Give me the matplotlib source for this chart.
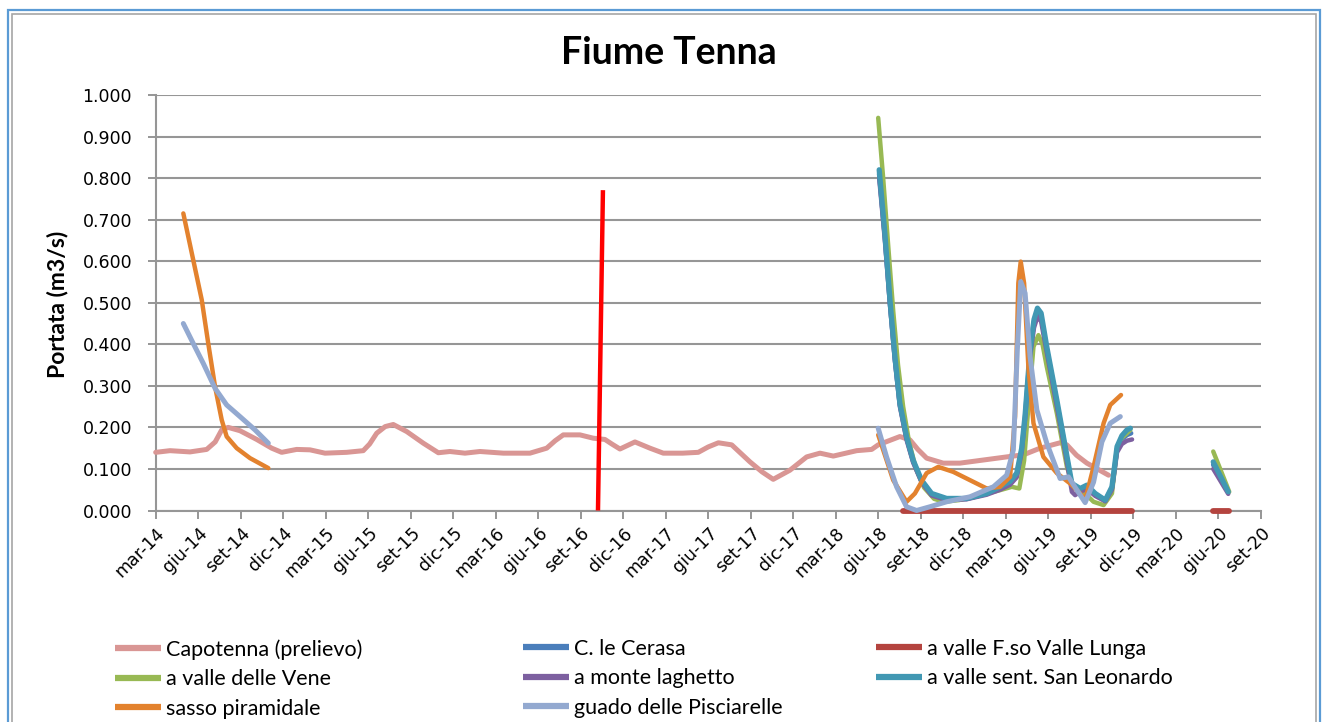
import numpy as np
import matplotlib
matplotlib.use("Agg")
import matplotlib.pyplot as plt
from matplotlib import font_manager
from matplotlib.patches import Rectangle

# ---------------- data (x = months since Jan 2014, y = m3/s) ----------------
tick_months = list(range(2, 81, 3))
tick_labels = ["mar-14", "giu-14", "set-14", "dic-14", "mar-15", "giu-15", "set-15", "dic-15",
               "mar-16", "giu-16", "set-16", "dic-16", "mar-17", "giu-17", "set-17", "dic-17",
               "mar-18", "giu-18", "set-18", "dic-18", "mar-19", "giu-19", "set-19", "dic-19",
               "mar-20", "giu-20", "set-20"]
y_ticks = [0.0, 0.1, 0.2, 0.3, 0.4, 0.5, 0.6, 0.7, 0.8, 0.9, 1.0]

capotenna_m = [2.0, 3.01, 4.42, 5.60, 6.20, 6.66, 7.12, 7.95, 9.13, 10.19, 10.89, 11.95, 12.89, 13.95,
               15.48, 16.65, 17.10, 17.60, 18.20, 18.77, 19.72, 20.89, 21.95, 22.77, 23.83, 24.89,
               26.54, 28.42, 29.60, 30.20, 30.77, 31.95, 32.89, 33.71, 34.20, 34.77, 35.83, 36.89,
               37.83, 39.2, 40.30, 41.00, 41.72, 42.66, 43.95, 44.80, 45.59, 46.77, 47.95, 48.89,
               49.83, 51.48, 52.54, 53.0, 54.53, 55.24, 55.80, 56.42, 57.59, 58.77, 62.07, 63.25,
               64.43, 65.84, 66.32, 67.00, 67.73, 69.26]
capotenna_q = [0.140, 0.144, 0.141, 0.147, 0.165, 0.194, 0.200, 0.192, 0.171, 0.150, 0.140, 0.147,
               0.146, 0.138, 0.140, 0.144, 0.160, 0.186, 0.202, 0.207, 0.190, 0.162, 0.139, 0.142,
               0.138, 0.142, 0.138, 0.138, 0.150, 0.168, 0.182, 0.182, 0.174, 0.171, 0.160, 0.148,
               0.165, 0.150, 0.138, 0.138, 0.140, 0.153, 0.163, 0.158, 0.117, 0.093, 0.075, 0.097,
               0.129, 0.138, 0.131, 0.144, 0.147, 0.158, 0.178, 0.170, 0.147, 0.126, 0.114, 0.114,
               0.129, 0.134, 0.150, 0.163, 0.158, 0.133, 0.114, 0.085]

cerasa_m = [53.07, 53.47, 53.83, 54.18, 54.53, 55.00, 55.47, 56.06, 56.77, 57.83, 59.24, 60.66,
            61.60, 62.31, 62.78, 63.13, 63.37, 63.72, 64.00, 64.24, 64.50, 64.90, 65.61, 66.20,
            66.67, 67.26, 67.73, 68.32, 69.03, 69.50, 69.86, 70.20, 70.56, 70.85,
            np.nan, 76.65, 77.71]
cerasa_q = [0.810, 0.660, 0.500, 0.365, 0.255, 0.175, 0.118, 0.071, 0.039, 0.027, 0.028, 0.040,
            0.054, 0.066, 0.085, 0.145, 0.225, 0.380, 0.455, 0.477, 0.466, 0.388, 0.260, 0.150,
            0.058, 0.050, 0.058, 0.039, 0.024, 0.054, 0.148, 0.172, 0.182, 0.186,
            np.nan, 0.110, 0.045]

vallelunga_m = [54.76, 57.0, 60.0, 63.0, 66.0, 69.0, 70.94, np.nan, 76.65, 77.78]
vallelunga_q = [0.0, 0.0, 0.0, 0.0, 0.0, 0.0, 0.0, np.nan, 0.0, 0.0]

vene_m = [53.0, 53.35, 53.70, 54.06, 54.40, 54.76, 55.18, 55.67, 56.24, 56.95, 57.65, 58.70,
          60.10, 61.50, 62.43, 62.96, 63.30, 63.60, 63.96, 64.31, 64.60, 64.90, 65.61, 66.32,
          66.79, 67.49, 68.20, 68.91, 69.50, 69.86, 70.20, 70.56, 70.80,
          np.nan, 76.65, 77.78]
vene_q = [0.945, 0.800, 0.640, 0.480, 0.350, 0.250, 0.165, 0.100, 0.055, 0.028, 0.021, 0.025,
          0.036, 0.048, 0.057, 0.053, 0.120, 0.250, 0.394, 0.422, 0.400, 0.346, 0.234, 0.105,
          0.057, 0.045, 0.021, 0.013, 0.041, 0.150, 0.175, 0.186, 0.194,
          np.nan, 0.142, 0.045]

laghetto_m = [53.07, 53.47, 53.83, 54.18, 54.53, 55.00, 55.47, 56.06, 56.77, 57.83, 59.24, 60.66,
              61.60, 62.31, 62.78, 63.13, 63.37, 63.72, 64.00, 64.24, 64.50, 64.90, 65.61, 66.20,
              66.67, 66.90, 67.26, 67.73, 68.32, 69.03, 69.50, 69.86, 70.20, 70.56, 70.92,
              np.nan, 76.65, 77.71]
laghetto_q = [0.800, 0.650, 0.495, 0.360, 0.250, 0.170, 0.115, 0.068, 0.036, 0.025, 0.027, 0.038,
              0.050, 0.062, 0.080, 0.140, 0.220, 0.370, 0.440, 0.466, 0.455, 0.380, 0.250, 0.140,
              0.045, 0.037, 0.045, 0.052, 0.035, 0.022, 0.050, 0.140, 0.160, 0.168, 0.171,
              np.nan, 0.100, 0.040]

leonardo_m = [53.07, 53.47, 53.83, 54.18, 54.53, 55.00, 55.47, 56.06, 56.77, 57.83, 59.24, 60.66,
              61.60, 62.31, 62.78, 63.13, 63.37, 63.72, 64.00, 64.24, 64.50, 64.90, 65.61, 66.20,
              66.67, 67.26, 67.73, 68.32, 69.03, 69.50, 69.86, 70.20, 70.56, 70.80,
              np.nan, 76.65, 77.71]
leonardo_q = [0.820, 0.667, 0.507, 0.370, 0.258, 0.178, 0.121, 0.073, 0.041, 0.029, 0.029, 0.041,
              0.057, 0.070, 0.090, 0.150, 0.230, 0.386, 0.460, 0.487, 0.475, 0.394, 0.266, 0.154,
              0.065, 0.053, 0.061, 0.041, 0.025, 0.057, 0.154, 0.180, 0.194, 0.198,
              np.nan, 0.117, 0.045]

sasso_m = [3.95, 4.65, 5.25, 5.71, 6.19, 6.66, 7.01, 7.72, 8.66, 9.95, np.nan,
           53.0, 54.06, 55.0, 55.59, 56.42, 57.24, 58.30, 59.48, 60.66, 61.60, 62.31, 62.66,
           62.89, 63.06, 63.30, 63.60, 63.96, 64.66, 65.61, 66.55, 67.26, 67.61, 68.20, 68.91,
           69.38, 70.14]
sasso_q = [0.715, 0.603, 0.507, 0.402, 0.298, 0.218, 0.178, 0.150, 0.126, 0.102, np.nan,
           0.182, 0.073, 0.021, 0.041, 0.090, 0.105, 0.093, 0.073, 0.053, 0.057, 0.081, 0.226,
           0.547, 0.599, 0.547, 0.346, 0.210, 0.129, 0.090, 0.065, 0.041, 0.025, 0.105, 0.210,
           0.254, 0.278]

guado_m = [3.95, 4.65, 5.36, 6.19, 7.01, 7.95, 9.01, 9.95, np.nan,
           53.0, 53.59, 54.30, 55.0, 55.71, 56.65, 57.83, 59.48, 61.13, 62.07, 62.54, 62.82,
           63.06, 63.37, 63.72, 64.20, 64.90, 65.84, 66.43, 67.03, 67.61, 68.20, 68.79, 69.38,
           70.09]
guado_q = [0.450, 0.402, 0.354, 0.294, 0.254, 0.226, 0.194, 0.162, np.nan,
           0.198, 0.129, 0.057, 0.009, 0.000, 0.009, 0.021, 0.033, 0.057, 0.085, 0.146, 0.386,
           0.551, 0.523, 0.370, 0.242, 0.162, 0.077, 0.081, 0.049, 0.019, 0.068, 0.165, 0.210,
           0.226]

marker_line_m = [33.22, 33.57]
marker_line_q = [0.0, 0.771]

# ---------------- fonts ----------------
avail = {f.name for f in font_manager.fontManager.ttflist}
def pick(*names):
    for n in names:
        if n in avail:
            return n
    return "DejaVu Sans"
title_font = pick("Lato", "Open Sans", "DejaVu Sans")
legend_font = pick("Liberation Sans Narrow", "Lato", "DejaVu Sans")
tick_font = "DejaVu Sans"

W, H = 1322, 722
fig = plt.figure(figsize=(W / 100, H / 100), dpi=100)
fig.patch.set_facecolor("white")

# outer chart border
fig.add_artist(Rectangle((8 / W, -0.05), (1320 - 8) / W, (H - 10) / H + 0.05,
                         transform=fig.transFigure, fill=False, edgecolor="#5B9BD5", lw=1.6))
fig.add_artist(Rectangle((12 / W, -0.05), (1316 - 12) / W, (H - 14) / H + 0.05,
                         transform=fig.transFigure, fill=False, edgecolor="#A6A6A6", lw=1.2))

left, right, top, bottom = 155.7, 1260.7, 95.0, 510.5
ax = fig.add_axes([left / W, (H - bottom) / H, (right - left) / W, (bottom - top) / H])

grid_c = "#969696"
ax.set_xlim(2, 80)
ax.set_ylim(0, 1.0)
ax.set_yticks(y_ticks)
ax.set_yticklabels([f"{v:.3f}" for v in y_ticks], fontsize=12.5, family=tick_font)
ax.set_xticks(tick_months)
ax.set_xticklabels(tick_labels, rotation=45, ha="right", va="top", rotation_mode="anchor",
                   fontsize=12.5, family=tick_font)
ax.grid(axis="y", color=grid_c, lw=1.5)
ax.set_axisbelow(True)
for s in ["top", "right"]:
    ax.spines[s].set_visible(False)
for s in ["left", "bottom"]:
    ax.spines[s].set_color(grid_c)
    ax.spines[s].set_linewidth(1.5)
ax.tick_params(axis="both", direction="out", length=6, width=1.4, color=grid_c)
ax.tick_params(axis="y", pad=11)
ax.tick_params(axis="x", pad=4)

kw = dict(solid_capstyle="round", solid_joinstyle="round", zorder=3, clip_on=False)
l1, = ax.plot(capotenna_m, capotenna_q, color="#D99694", lw=3.6, label="Capotenna (prelievo)", **kw)
l2, = ax.plot(cerasa_m, cerasa_q, color="#4A7EBB", lw=3.4, label="C. le Cerasa", **kw)
l3, = ax.plot(vallelunga_m, vallelunga_q, color="#B4443F", lw=4.2, label="a valle F.so Valle Lunga", **kw)
l4, = ax.plot(vene_m, vene_q, color="#98B954", lw=3.2, label="a valle delle Vene", **kw)
l5, = ax.plot(laghetto_m, laghetto_q, color="#7D60A0", lw=3.2, label="a monte laghetto", **kw)
l6, = ax.plot(leonardo_m, leonardo_q, color="#4198B3", lw=3.8, label="a valle sent. San Leonardo", **kw)
l7, = ax.plot(sasso_m, sasso_q, color="#E3822E", lw=3.2, label="sasso piramidale", **kw)
l8, = ax.plot(guado_m, guado_q, color="#93A9D0", lw=3.6, label="guado delle Pisciarelle", **kw)
ax.plot(marker_line_m, marker_line_q, color="#FF0000", lw=3.2, solid_capstyle="butt", zorder=3)

fig.text(669 / W, 1 - 53 / H, "Fiume Tenna", ha="center", va="center",
         fontsize=27, fontweight="bold", family=title_font)
fig.text(58 / W, 1 - 304 / H, "Portata (m3/s)", ha="center", va="center", rotation=90,
         fontsize=16.5, fontweight="bold", family=title_font)

# legend, three columns (rows filled left-to-right as in the original)
cols = [([l1, l4, l7], 115), ([l2, l5, l8], 523), ([l3, l6], 876)]
fs = 15.5
fs_px = fs * 100 / 72
for handles, x0 in cols:
    leg = fig.legend(handles=handles, loc="upper left",
                     bbox_to_anchor=(x0 / W, 1 - 639 / H), frameon=False,
                     borderpad=0, borderaxespad=0, handlelength=46 / fs_px,
                     handletextpad=5 / fs_px, labelspacing=0.44,
                     prop={"family": legend_font, "size": fs})
    for lh in leg.get_lines():
        lh.set_linewidth(4.5)
        lh.set_solid_capstyle("butt")

fig.savefig("out.png", dpi=100, facecolor="white")
